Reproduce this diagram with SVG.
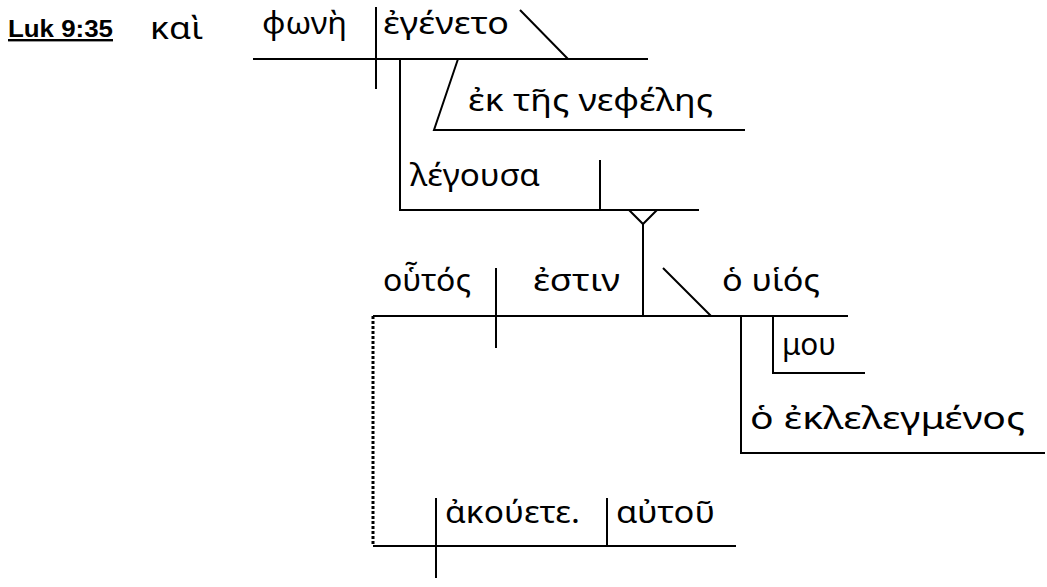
<svg xmlns="http://www.w3.org/2000/svg" width="1047" height="587" viewBox="0 0 1047 587">
<style>
.ln{stroke:#000;stroke-width:2;fill:none}
.dot{stroke:#000;stroke-width:3;fill:none;stroke-dasharray:3 2}
.gk{font-family:"Noto Sans","DejaVu Sans",sans-serif;font-size:30px;fill:#000}
.ref{font-family:"Liberation Sans",Arial,sans-serif;font-size:24px;font-weight:bold;fill:#000;text-decoration:underline}
</style>
<rect width="1047" height="587" fill="#fff"/>
<g id="title"><text class="ref" x="8" y="37" textLength="105" lengthAdjust="spacingAndGlyphs">Luk 9:35</text></g>
<g id="conj"><text class="gk" x="150" y="39" textLength="53" lengthAdjust="spacingAndGlyphs">καὶ</text></g>
<g id="n-subject"><text class="gk" x="262" y="34" textLength="85" lengthAdjust="spacingAndGlyphs">φωνὴ</text></g>
<g id="n-verb"><text class="gk" x="383" y="34" textLength="126" lengthAdjust="spacingAndGlyphs">ἐγένετο</text></g>
<g id="n-pp"><text class="gk" x="468" y="111" textLength="245" lengthAdjust="spacingAndGlyphs">ἐκ τῆς νεφέλης</text></g>
<g id="n-participle"><text class="gk" x="410" y="186" textLength="130" lengthAdjust="spacingAndGlyphs">λέγουσα</text></g>
<g id="n-houtos"><text class="gk" x="383" y="291" textLength="88" lengthAdjust="spacingAndGlyphs">οὗτός</text></g>
<g id="n-estin"><text class="gk" x="533" y="291" textLength="87" lengthAdjust="spacingAndGlyphs">ἐστιν</text></g>
<g id="n-huios"><text class="gk" x="722" y="291" textLength="98" lengthAdjust="spacingAndGlyphs">ὁ υἱός</text></g>
<g id="n-mou"><text class="gk" x="782" y="355" textLength="54" lengthAdjust="spacingAndGlyphs">μου</text></g>
<g id="n-eklelegmenos"><text class="gk" x="750" y="429" textLength="275" lengthAdjust="spacingAndGlyphs">ὁ ἐκλελεγμένος</text></g>
<g id="n-akouete"><text class="gk" x="445" y="523" textLength="135" lengthAdjust="spacingAndGlyphs">ἀκούετε.</text></g>
<g id="n-autou"><text class="gk" x="616" y="523" textLength="99" lengthAdjust="spacingAndGlyphs">αὐτοῦ</text></g>
<g id="connectors">
<path class="ln" d="M253 59H648M376 7V89M520 10L568 59"/>
<path class="ln" d="M458 59L434 130H745"/>
<path class="ln" d="M400 59V210H699M600 160V210"/>
<path class="ln" d="M629 210L643 224L657 210M643 224V316"/>
<path class="ln" d="M373 316H848M496 268V348M663 268L711 316"/>
<path class="ln" d="M741 316V453H1045M773 316V373H865"/>
<path class="dot" d="M373 316V546"/>
<path class="ln" d="M373 546H736M436 498V578M607 498V546"/>
</g>
</svg>
